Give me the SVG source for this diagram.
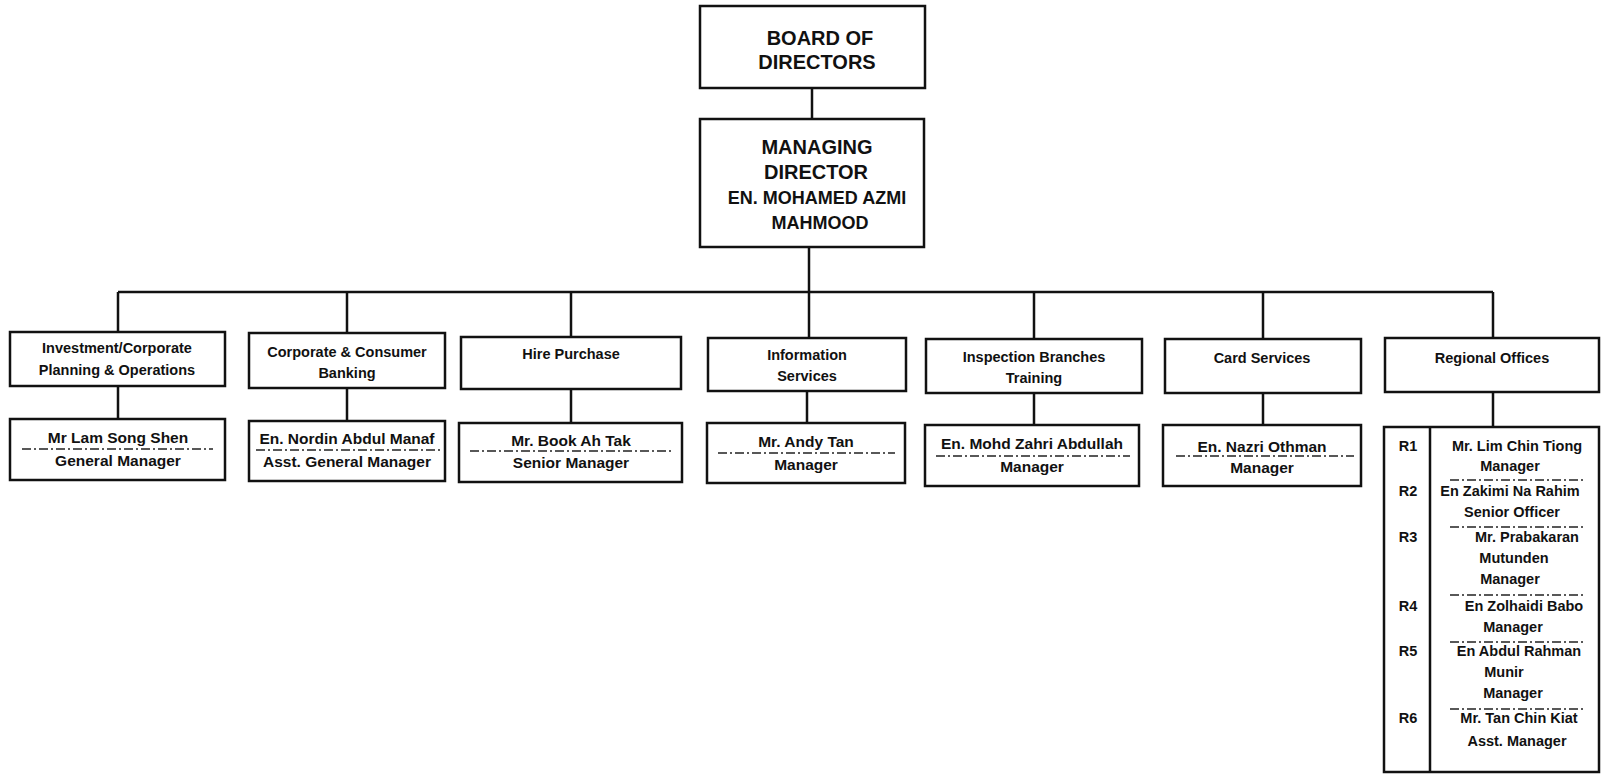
<svg xmlns="http://www.w3.org/2000/svg" width="1601" height="774" viewBox="0 0 1601 774">
<style>
.box{fill:#fff;stroke:#111;stroke-width:2.5}
.ln{fill:none;stroke:#111;stroke-width:2.5}
.dash{fill:none;stroke:#222;stroke-width:1.5;stroke-dasharray:9 3 2 3}
text{font-family:"Liberation Sans",Arial,sans-serif;font-weight:bold;fill:#111;text-anchor:middle}
.big{font-size:20px}
.mid{font-size:18px}
.l2{font-size:14.5px}
.nm{font-size:15.5px}
.ls{font-size:14.5px}
</style>
<rect width="1601" height="774" fill="#fff"/>
<g id="connectors">
<path class="ln" d="M812 88V119"/>
<path class="ln" d="M809 247V338"/>
<path class="ln" d="M118 292H1493"/>
<path class="ln" d="M118 292V332M347 292V333M571 292V337M1034 292V339M1263 292V339M1493 292V338"/>
<path class="ln" d="M118 386V419M347 388V421M571 389V423M807 391V423M1034 393V425M1263 393V425M1493 392V427"/>
</g>
<g id="board">
<rect class="box" x="700" y="6" width="225" height="82"/>
<text class="big" x="820" y="45">BOARD OF</text>
<text class="big" x="817" y="69">DIRECTORS</text>
</g>
<g id="md">
<rect class="box" x="700" y="119" width="224" height="128"/>
<text class="big" x="817" y="154">MANAGING</text>
<text class="big" x="816" y="179">DIRECTOR</text>
<text class="mid" x="817" y="204">EN. MOHAMED AZMI</text>
<text class="mid" x="820" y="229">MAHMOOD</text>
</g>
<g id="dept-investment">
<rect class="box" x="10" y="332" width="215" height="54"/>
<text class="l2" x="117" y="353">Investment/Corporate</text>
<text class="l2" x="117" y="375">Planning &amp; Operations</text>
</g>
<g id="dept-corporate">
<rect class="box" x="249" y="333" width="196" height="55"/>
<text class="l2" x="347" y="357">Corporate &amp; Consumer</text>
<text class="l2" x="347" y="378">Banking</text>
</g>
<g id="dept-hire">
<rect class="box" x="461" y="337" width="220" height="52"/>
<text class="l2" x="571" y="359">Hire Purchase</text>
</g>
<g id="dept-info">
<rect class="box" x="708" y="338" width="198" height="53"/>
<text class="l2" x="807" y="360">Information</text>
<text class="l2" x="807" y="381">Services</text>
</g>
<g id="dept-inspection">
<rect class="box" x="926" y="339" width="216" height="54"/>
<text class="l2" x="1034" y="362">Inspection Branches</text>
<text class="l2" x="1034" y="383">Training</text>
</g>
<g id="dept-card">
<rect class="box" x="1165" y="339" width="196" height="54"/>
<text class="l2" x="1262" y="363">Card Services</text>
</g>
<g id="dept-regional">
<rect class="box" x="1385" y="338" width="214" height="54"/>
<text class="l2" x="1492" y="363">Regional Offices</text>
</g>
<g id="mgr-investment">
<rect class="box" x="10" y="419" width="215" height="61"/>
<text class="nm" x="118" y="443">Mr  Lam Song Shen</text>
<path class="dash" d="M22 449H213"/>
<text class="nm" x="118" y="466">General Manager</text>
</g>
<g id="mgr-corporate">
<rect class="box" x="249" y="421" width="196" height="60"/>
<text class="nm" x="347" y="444">En. Nordin Abdul Manaf</text>
<path class="dash" d="M256 450H440"/>
<text class="nm" x="347" y="467">Asst. General Manager</text>
</g>
<g id="mgr-hire">
<rect class="box" x="459" y="423" width="223" height="59"/>
<text class="nm" x="571" y="446">Mr. Book Ah Tak</text>
<path class="dash" d="M470 451H672"/>
<text class="nm" x="571" y="468">Senior Manager</text>
</g>
<g id="mgr-info">
<rect class="box" x="707" y="423" width="198" height="60"/>
<text class="nm" x="806" y="447">Mr. Andy Tan</text>
<path class="dash" d="M718 453H895"/>
<text class="nm" x="806" y="470">Manager</text>
</g>
<g id="mgr-inspection">
<rect class="box" x="925" y="425" width="214" height="61"/>
<text class="nm" x="1032" y="449">En. Mohd Zahri Abdullah</text>
<path class="dash" d="M936 456H1130"/>
<text class="nm" x="1032" y="472">Manager</text>
</g>
<g id="mgr-card">
<rect class="box" x="1163" y="425" width="198" height="61"/>
<text class="nm" x="1262" y="452">En. Nazri Othman</text>
<path class="dash" d="M1176 456H1354"/>
<text class="nm" x="1262" y="473">Manager</text>
</g>
<g id="regional-list">
<rect class="box" x="1384" y="427" width="215" height="345"/>
<path class="ln" d="M1430 427V772"/>
<text class="ls" x="1408" y="451">R1</text>
<text class="ls" x="1517" y="451">Mr. Lim Chin Tiong</text>
<text class="ls" x="1510" y="471">Manager</text>
<path class="dash" d="M1450 480H1585"/>
<text class="ls" x="1408" y="496">R2</text>
<text class="ls" x="1510" y="496">En Zakimi Na Rahim</text>
<text class="ls" x="1512" y="517">Senior Officer</text>
<path class="dash" d="M1450 527H1585"/>
<text class="ls" x="1408" y="542">R3</text>
<text class="ls" x="1527" y="542">Mr. Prabakaran</text>
<text class="ls" x="1514" y="563">Mutunden</text>
<text class="ls" x="1510" y="584">Manager</text>
<path class="dash" d="M1450 595H1585"/>
<text class="ls" x="1408" y="611">R4</text>
<text class="ls" x="1524" y="611">En Zolhaidi Babo</text>
<text class="ls" x="1513" y="632">Manager</text>
<path class="dash" d="M1450 642H1585"/>
<text class="ls" x="1408" y="656">R5</text>
<text class="ls" x="1519" y="656">En Abdul Rahman</text>
<text class="ls" x="1504" y="677">Munir</text>
<text class="ls" x="1513" y="698">Manager</text>
<path class="dash" d="M1450 709H1585"/>
<text class="ls" x="1408" y="723">R6</text>
<text class="ls" x="1519" y="723">Mr. Tan Chin Kiat</text>
<text class="ls" x="1517" y="746">Asst. Manager</text>
</g>
</svg>
